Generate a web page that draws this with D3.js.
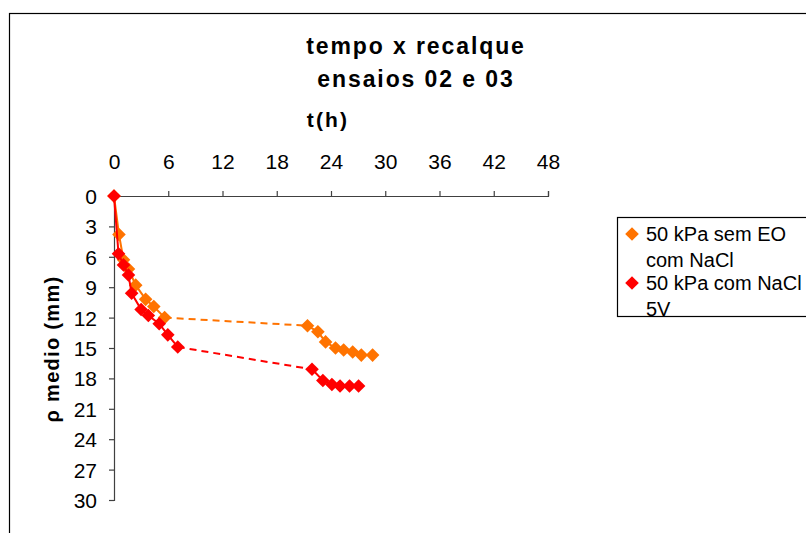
<!DOCTYPE html>
<html>
<head>
<meta charset="utf-8">
<script src="https://cdn.jsdelivr.net/npm/d3@7"></script>
<style>
  html, body { margin: 0; padding: 0; background: #fff; }
  svg { display: block; font-family: "Liberation Sans", Arial, sans-serif; }
</style>
</head>
<body>
<svg id="chart" width="806" height="533"></svg>
<script>
// ---- data ----
const titleLines = ["tempo x recalque", "ensaios 02 e 03"];
const xTitle = "t(h)";
const yTitle = "ρ medio (mm)";
const xTicks = [0, 6, 12, 18, 24, 30, 36, 42, 48];
const yTicks = [0, 3, 6, 9, 12, 15, 18, 21, 24, 27, 30];
const seriesNames = [["50 kPa sem EO", "com NaCl"], ["50 kPa com NaCl", "5V"]];

const timeSemEO   = [0, 0.55, 1.05, 1.6, 2.4, 3.5, 4.4, 5.6, 21.4, 22.55, 23.4, 24.5, 25.4, 26.4, 27.35, 28.6];
const settleSemEO = [0, 3.8, 6.3, 7.2, 8.8, 10.2, 10.9, 12.0, 12.8, 13.4, 14.4, 15.0, 15.2, 15.4, 15.7, 15.7];

const timeCom5V   = [0, 0.5, 1.05, 1.6, 1.95, 3.0, 3.8, 5.0, 5.95, 7.05, 21.9, 23.1, 24.1, 25.0, 26.05, 27.05];
const settleCom5V = [0, 5.7, 6.8, 7.8, 9.6, 11.2, 11.8, 12.6, 13.7, 14.9, 17.1, 18.2, 18.6, 18.75, 18.75, 18.75];

const colors = ["#ff7300", "#ff0000"];

// ---- drawing ----
const svg = d3.select("#chart");
const x = d3.scaleLinear().domain([0, 48]).range([114, 548]);
const y = d3.scaleLinear().domain([0, 30]).range([196, 500]);

// outer chart border
svg.append("rect").attr("x", 9.5).attr("y", 13.5).attr("width", 900).attr("height", 600)
  .attr("fill", "none").attr("stroke", "#000").attr("stroke-width", 1.2);

// titles
svg.append("g").selectAll("text").data(titleLines).join("text")
  .attr("x", 416).attr("y", (d, i) => 54 + i * 33)
  .attr("text-anchor", "middle").attr("font-size", 23).attr("font-weight", "bold")
  .attr("letter-spacing", 1.9).text(d => d);

svg.append("text").attr("x", 328).attr("y", 127).attr("text-anchor", "middle")
  .attr("font-size", 21).attr("font-weight", "bold").attr("letter-spacing", 2.2).text(xTitle);

svg.append("text").attr("transform", "translate(59,349) rotate(-90)")
  .attr("text-anchor", "middle").attr("font-size", 20).attr("font-weight", "bold")
  .attr("letter-spacing", 1.3).text(yTitle);

// axes
const xAxis = svg.append("g").attr("transform", `translate(0,${y(0)})`)
  .call(d3.axisTop(x).tickValues(xTicks).tickSize(5).tickSizeOuter(5).tickPadding(22).tickFormat(d3.format("d")));
const yAxis = svg.append("g").attr("transform", `translate(${x(0)},0)`)
  .call(d3.axisLeft(y).tickValues(yTicks).tickSize(5).tickSizeOuter(5).tickPadding(12).tickFormat(d3.format("d")));
[xAxis, yAxis].forEach(g => {
  g.select(".domain").attr("stroke", "#404040").attr("stroke-width", 1.2);
  g.selectAll(".tick line").attr("stroke", "#404040").attr("stroke-width", 1.2);
  g.selectAll("text").attr("font-size", 21).attr("fill", "#000")
   .attr("font-family", "Liberation Sans, Arial, sans-serif");
});
yAxis.selectAll("text").attr("dy", "0.36em");

// series
const series = [
  { t: timeSemEO, s: settleSemEO, color: colors[0] },
  { t: timeCom5V, s: settleCom5V, color: colors[1] }
];
const diamond = "M0,-6.8L6.8,0L0,6.8L-6.8,0Z";
const line = d3.line().x(d => x(d[0])).y(d => y(d[1]));

series.forEach(sr => {
  const pts = sr.t.map((t, i) => [t, sr.s[i]]);
  // split where the time gap is large (overnight), the gap is dashed
  let gi = pts.findIndex((p, i) => i > 0 && p[0] - pts[i - 1][0] > 6);
  const early = pts.slice(0, gi), late = pts.slice(gi), gap = [pts[gi - 1], pts[gi]];
  const g = svg.append("g");
  g.append("path").attr("d", line(early)).attr("fill", "none").attr("stroke", sr.color).attr("stroke-width", 2);
  g.append("path").attr("d", line(gap)).attr("fill", "none").attr("stroke", sr.color)
    .attr("stroke-width", 2).attr("stroke-dasharray", "7,5");
  g.append("path").attr("d", line(late)).attr("fill", "none").attr("stroke", sr.color).attr("stroke-width", 2);
  sr.g = g; sr.pts = pts;
});
series.forEach(sr => {
  sr.g.selectAll("path.m").data(sr.pts).join("path").attr("class", "m")
    .attr("d", diamond).attr("transform", d => `translate(${x(d[0])},${y(d[1])})`)
    .attr("fill", sr.color);
});

// legend
const lg = svg.append("g");
lg.append("rect").attr("x", 617.5).attr("y", 217.5).attr("width", 250).attr("height", 99)
  .attr("fill", "#fff").attr("stroke", "#000").attr("stroke-width", 1.2);
seriesNames.forEach((names, i) => {
  const cy = 234 + i * 49;
  lg.append("path").attr("d", diamond).attr("transform", `translate(632,${cy})`).attr("fill", colors[i]);
  names.forEach((n, j) => {
    lg.append("text").attr("x", 646).attr("y", cy + 7 + j * 26)
      .attr("font-size", 20).attr("fill", "#000").text(n);
  });
});
</script>
</body>
</html>
